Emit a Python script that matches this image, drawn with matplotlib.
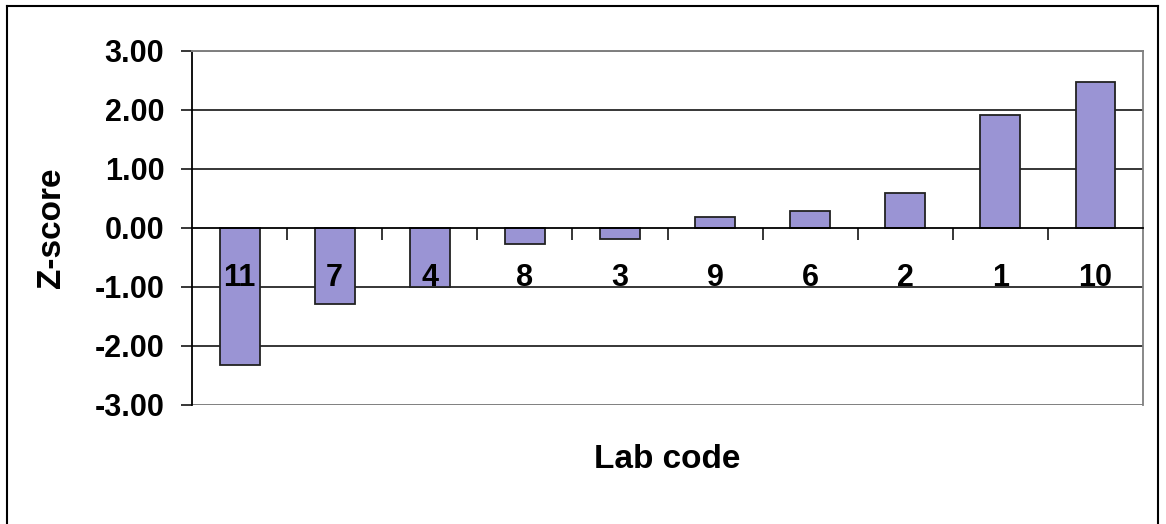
import matplotlib.pyplot as plt
from matplotlib.lines import Line2D
from matplotlib.ticker import FixedLocator

plt.rcParams['font.family'] = ['Liberation Sans', 'DejaVu Sans']
plt.rcParams['font.weight'] = 'bold'

# Dados do gráfico
lab_codes = ['11', '7', '4', '8', '3', '9', '6', '2', '1', '10']
z_scores = [-2.32, -1.29, -1.00, -0.27, -0.18, 0.19, 0.29, 0.59, 1.92, 2.47]
y_ticks = [-3, -2, -1, 0, 1, 2, 3]

BAR_COLOR = '#9a94d4'
GRAY = '#7f7f7f'

fig = plt.figure(figsize=(11.66, 5.24), dpi=100)
ax = fig.add_axes([0.1647, 0.2271, 0.8156, 0.6756])

# moldura externa da figura
for xs, ys in [([0.006, 0.006], [0.0, 0.9885]),
               ([0.006, 0.9931], [0.9885, 0.9885]),
               ([0.9931, 0.9931], [0.0, 0.9885])]:
    fig.add_artist(Line2D(xs, ys, transform=fig.transFigure, color='black', lw=1.5))

x = list(range(len(lab_codes)))
# barras abaixo dos rótulos do eixo (zorder do eixo = 1.5)
ax.bar(x, z_scores, width=0.42, color=BAR_COLOR, edgecolor='#222222',
       linewidth=1.3, zorder=1.2)

# linhas de grade (atrás das barras)
for v in y_ticks:
    if v in (-3, 3):
        ax.axhline(v, color=GRAY, lw=1.4, zorder=0.5)
    elif v != 0:
        ax.axhline(v, color='black', lw=1.1, zorder=0.5)

ax.set_xlim(-0.5, len(lab_codes) - 0.5)
ax.set_ylim(-3, 3)

ax.spines['bottom'].set_position(('data', 0))
ax.spines['bottom'].set_color('black')
ax.spines['bottom'].set_linewidth(1.3)
ax.spines['left'].set_color('black')
ax.spines['left'].set_linewidth(1.3)
ax.spines['top'].set_color(GRAY)
ax.spines['top'].set_linewidth(1.4)
ax.spines['right'].set_color(GRAY)
ax.spines['right'].set_linewidth(1.3)

ax.set_yticks(y_ticks)
ax.set_yticklabels([f'{v:.2f}' for v in y_ticks])
ax.tick_params(axis='y', direction='out', length=8, width=1.1, pad=12,
               labelsize=22, colors='black')

ax.set_xticks(x)
ax.set_xticklabels(lab_codes)
ax.xaxis.set_minor_locator(FixedLocator([i + 0.5 for i in x[:-1]]))
ax.tick_params(axis='x', which='major', length=0, pad=25, labelsize=22)
ax.tick_params(axis='x', which='minor', direction='out', length=8.5, width=1.1)

ax.set_ylabel('Z-score', fontsize=24, fontweight='bold', va='center')
ax.yaxis.set_label_coords(-0.148, 0.5)
ax.set_xlabel('Lab code', fontsize=24, fontweight='bold', va='center')
ax.xaxis.set_label_coords(0.5, -0.155)

fig.savefig('out.png', dpi=100)
